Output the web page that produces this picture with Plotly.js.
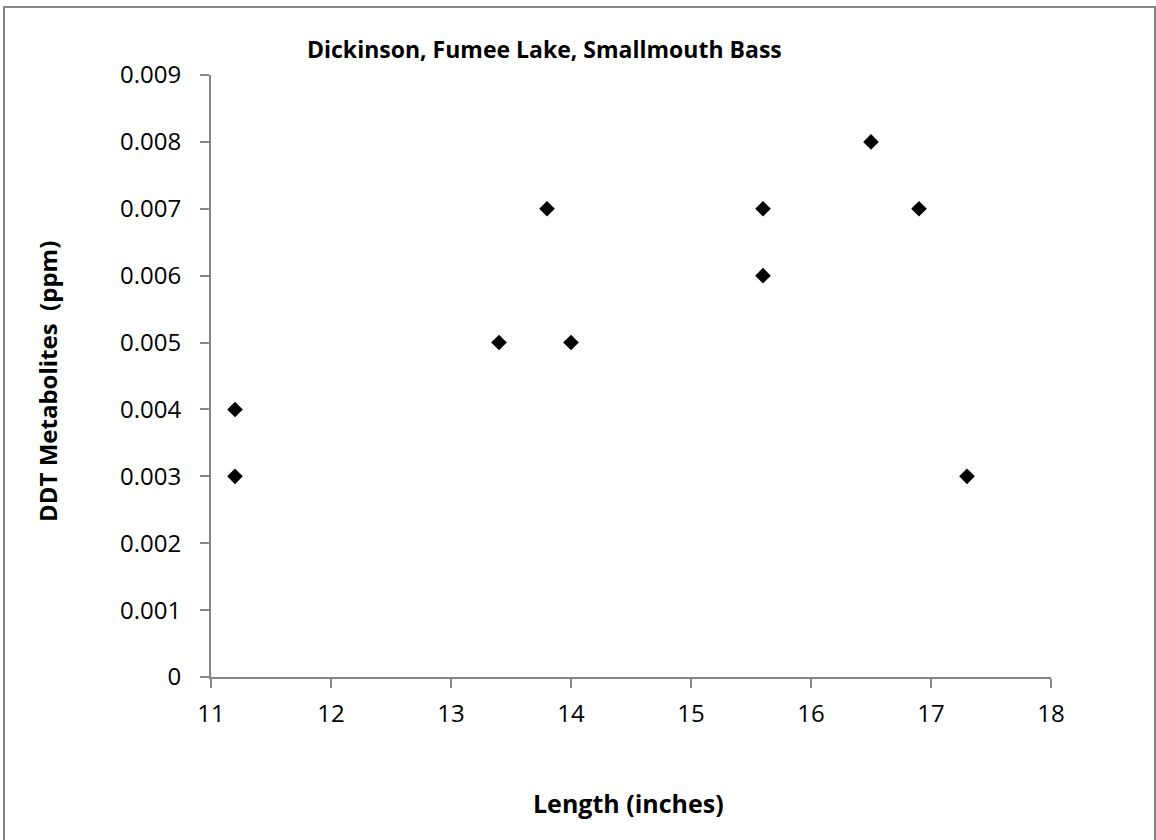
<!DOCTYPE html>
<html>
<head>
<meta charset="utf-8">
<script src="https://cdn.plot.ly/plotly-3.0.1.min.js"></script>
<style>html,body{margin:0;padding:0;background:#fff;}#chart{width:1156px;height:840px;}</style>
</head>
<body>
<div id="chart"></div>
<script>
const lengthInches = [11.2, 11.2, 13.4, 13.8, 14.0, 15.6, 15.6, 16.5, 16.9, 17.3];
const ddtPpm = [0.004, 0.003, 0.005, 0.007, 0.005, 0.007, 0.006, 0.008, 0.007, 0.003];
const xTicks = [11, 12, 13, 14, 15, 16, 17, 18];
const yTicks = [0, 0.001, 0.002, 0.003, 0.004, 0.005, 0.006, 0.007, 0.008, 0.009];
const yTickText = ['0', '0.001', '0.002', '0.003', '0.004', '0.005', '0.006', '0.007', '0.008', '0.009'];

const FONT = 'Open Sans, Liberation Sans, sans-serif';
const L = 211, R = 1051, T = 75, B = 677, W = 1156, H = 840;
const pw = R - L, ph = B - T;
const px = v => (v - L) / pw;
const py = v => (B - v) / ph;

const trace = {
  type: 'scatter', mode: 'markers',
  x: lengthInches, y: ddtPpm,
  marker: {symbol: 'diamond', size: 12, color: '#000000', line: {width: 0}},
  hoverinfo: 'x+y', showlegend: false
};

const axisCommon = {
  showgrid: false, zeroline: false, showline: true,
  linecolor: '#868686', linewidth: 2,
  ticks: 'outside', ticklen: 9, tickwidth: 2, tickcolor: '#868686',
  tickfont: {family: FONT, size: 24, color: '#000'}
};

const layout = {
  width: W, height: H,
  margin: {l: L, r: W - R, t: T, b: H - B, pad: 0},
  paper_bgcolor: '#fff', plot_bgcolor: '#fff',
  font: {family: FONT, color: '#000'},
  xaxis: Object.assign({}, axisCommon, {
    range: [11, 18], tickmode: 'array', tickvals: xTicks,
    ticktext: xTicks.map(String), ticklabelstandoff: 5
  }),
  yaxis: Object.assign({}, axisCommon, {
    range: [0, 0.009], tickmode: 'array', tickvals: yTicks,
    ticktext: yTickText, ticklabelstandoff: 14
  }),
  annotations: [
    {text: '<b>Dickinson, Fumee Lake, Smallmouth Bass</b>', xref: 'paper', yref: 'paper',
     x: px(544), y: py(49), xanchor: 'center', yanchor: 'middle', showarrow: false,
     font: {family: FONT, size: 23, color: '#000'}},
    {text: '<b>Length (inches)</b>', xref: 'paper', yref: 'paper',
     x: px(628), y: py(803), xanchor: 'center', yanchor: 'middle', showarrow: false,
     font: {family: FONT, size: 25, color: '#000'}},
    {text: '<b>DDT Metabolites  (ppm)</b>', xref: 'paper', yref: 'paper',
     x: px(47), y: py(382), xanchor: 'center', yanchor: 'middle', showarrow: false,
     textangle: -90, font: {family: FONT, size: 24, color: '#000'}}
  ],
  shapes: [
    {type: 'rect', xref: 'paper', yref: 'paper', layer: 'below',
     x0: px(4), x1: px(1155), y0: py(850), y1: py(7),
     line: {color: '#868686', width: 2}, fillcolor: 'rgba(0,0,0,0)'}
  ]
};

Plotly.newPlot('chart', [trace], layout, {displayModeBar: false, staticPlot: true});
</script>
</body>
</html>
